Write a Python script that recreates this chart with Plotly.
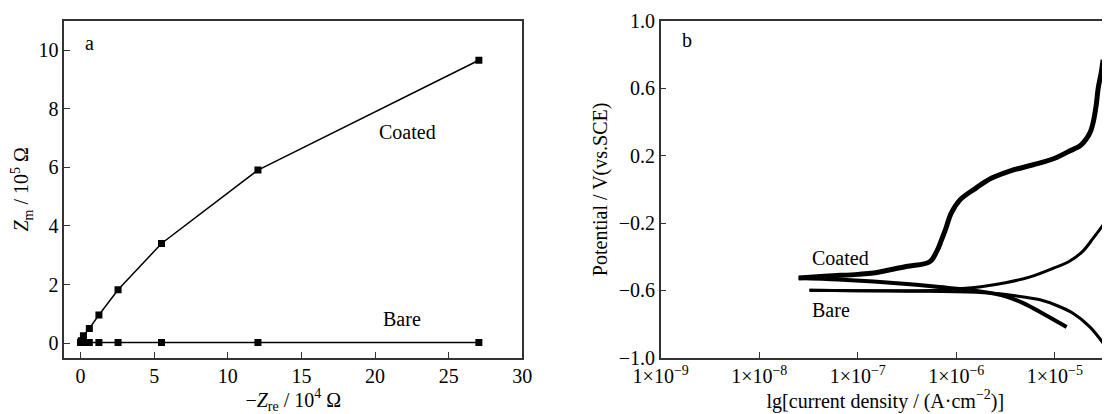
import numpy as np
import plotly.graph_objects as go

# ---------- panel a : Nyquist-type data ----------
coated_zre = [0.0, 0.05, 0.2, 0.6, 1.25, 2.55, 5.5, 12.05, 27.05]
coated_zim = [0.02, 0.08, 0.25, 0.5, 0.96, 1.82, 3.4, 5.91, 9.66]
bare_zre = [0.0, 0.05, 0.2, 0.6, 1.25, 2.55, 5.5, 12.05, 27.05]
bare_zim = [0.02, 0.02, 0.02, 0.02, 0.02, 0.02, 0.02, 0.02, 0.02]

# ---------- panel b : polarization curves (lg i, E) ----------
coated_anodic_lg = [-7.60, -7.3, -7.0, -6.84, -6.51, -6.27, -6.20, -6.15, -6.11, -6.05, -5.96,
                    -5.82, -5.64, -5.45, -5.22, -5.0, -4.86, -4.74, -4.68, -4.64, -4.61, -4.58, -4.56, -4.53, -4.51]
coated_anodic_e = [-0.526, -0.515, -0.505, -0.497, -0.458, -0.430, -0.37, -0.30, -0.239, -0.14, -0.061,
                   0.0, 0.067, 0.11, 0.146, 0.185, 0.225, 0.26, 0.30, 0.34, 0.40, 0.50, 0.60, 0.69, 0.769]
coated_cathodic_lg = [-7.60, -7.2, -6.84, -6.5, -6.17, -5.76, -5.5, -5.32, -5.1, -4.88]
coated_cathodic_e = [-0.526, -0.535, -0.547, -0.562, -0.580, -0.606, -0.635, -0.676, -0.745, -0.818]
bare_anodic_lg = [-7.49, -7.0, -6.5, -6.2, -6.0, -5.75, -5.5, -5.25, -5.0, -4.86, -4.72, -4.61, -4.52, -4.44]
bare_anodic_e = [-0.600, -0.602, -0.603, -0.600, -0.592, -0.578, -0.555, -0.52, -0.465, -0.43, -0.37, -0.29, -0.22, -0.15]
bare_cathodic_lg = [-7.49, -7.0, -6.5, -6.0, -5.66, -5.4, -5.15, -4.98, -4.82, -4.65, -4.51]
bare_cathodic_e = [-0.600, -0.603, -0.605, -0.608, -0.616, -0.632, -0.656, -0.69, -0.735, -0.814, -0.913]

log_tickvals = [-9, -8, -7, -6, -5]
log_ticktext = ["1×10<sup>−9</sup>", "1×10<sup>−8</sup>", "1×10<sup>−7</sup>", "1×10<sup>−6</sup>", "1×10<sup>−5</sup>"]
e_tickvals = [-1.0, -0.6, -0.2, 0.2, 0.6, 1.0]
e_ticktext = ["−1.0", "−0.6", "−0.2", "0.2", "0.6", "1.0"]

FONT = "Liberation Serif"
# the page body adds an 8 px margin, so the figure is shrunk by that amount
OFF = 8
W, H = 1110 - OFF, 414 - OFF

def fx(px):
    return (px - OFF) / W

def fy(py):
    return 1 - (py - OFF) / H

fig = go.Figure()

line_a = dict(color="black", width=1.5)
mk = dict(symbol="square", size=7, color="black")
fig.add_trace(go.Scatter(x=coated_zre, y=coated_zim, mode="lines+markers", line=line_a, marker=mk,
                         xaxis="x", yaxis="y", showlegend=False))
fig.add_trace(go.Scatter(x=bare_zre, y=bare_zim, mode="lines+markers", line=line_a, marker=mk,
                         xaxis="x", yaxis="y", showlegend=False))

def p(lg):
    return np.power(10.0, np.array(lg))

fig.add_trace(go.Scatter(x=p(bare_anodic_lg), y=bare_anodic_e, mode="lines",
                         line=dict(color="black", width=3, shape="spline"), xaxis="x2", yaxis="y2", showlegend=False))
fig.add_trace(go.Scatter(x=p(bare_cathodic_lg), y=bare_cathodic_e, mode="lines",
                         line=dict(color="black", width=3, shape="spline"), xaxis="x2", yaxis="y2", showlegend=False))
fig.add_trace(go.Scatter(x=p(coated_cathodic_lg), y=coated_cathodic_e, mode="lines",
                         line=dict(color="black", width=4, shape="spline"), xaxis="x2", yaxis="y2", showlegend=False))
fig.add_trace(go.Scatter(x=p(coated_anodic_lg), y=coated_anodic_e, mode="lines",
                         line=dict(color="black", width=5, shape="spline"), xaxis="x2", yaxis="y2", showlegend=False))

ax_common = dict(showgrid=False, zeroline=False, showline=True, linecolor="#333", linewidth=1.5,
                 ticks="inside", ticklen=6, tickwidth=1.2, tickcolor="#333", automargin=False,
                 tickfont=dict(family=FONT, size=20, color="black"))
ydom = [fy(357.7), fy(21)]

fig.update_layout(
    width=W, height=H, margin=dict(l=0, r=0, t=0, b=0, autoexpand=False),
    plot_bgcolor="white", paper_bgcolor="white",
    font=dict(family=FONT, size=20, color="black"),
    xaxis=dict(ax_common, domain=[fx(64.3), fx(522.3)], range=[-1.1, 30], mirror=True,
               tickvals=[0, 5, 10, 15, 20, 25, 30], anchor="y",
               title=dict(text="−<i>Z</i><sub>re</sub> / 10<sup>4</sup> Ω", font=dict(family=FONT, size=20), standoff=2)),
    yaxis=dict(ax_common, domain=ydom, range=[-0.5, 11], mirror=True,
               tickvals=[0, 2, 4, 6, 8, 10], anchor="x",
               title=dict(text="<i>Z</i><sub>m</sub> / 10<sup>5</sup> Ω", font=dict(family=FONT, size=20), standoff=6)),
    xaxis2=dict(ax_common, domain=[fx(660.7), 1.0], type="log", range=[-9, -4.44], mirror=True,
                tickvals=[10.0 ** v for v in log_tickvals], ticktext=log_ticktext, anchor="y2",
                title=dict(text="lg[current density / (A·cm<sup>−2</sup>)]", font=dict(family=FONT, size=20), standoff=2)),
    yaxis2=dict(ax_common, domain=ydom, range=[-1.0, 1.0], mirror=False,
                tickvals=e_tickvals, ticktext=e_ticktext, anchor="x2",
                title=dict(text="Potential / V(vs.SCE)", font=dict(family=FONT, size=20), standoff=6)),
)

ann_font = dict(family=FONT, size=20, color="black")
fig.add_annotation(x=0.58, y=10.25, xref="x", yref="y", text="a", showarrow=False, font=ann_font)
fig.add_annotation(x=22.2, y=7.21, xref="x", yref="y", text="Coated", showarrow=False, font=ann_font)
fig.add_annotation(x=21.8, y=0.83, xref="x", yref="y", text="Bare", showarrow=False, font=ann_font)
fig.add_annotation(x=-8.73, y=0.887, xref="x2", yref="y2", text="b", showarrow=False, font=ann_font)
fig.add_annotation(x=-7.18, y=-0.408, xref="x2", yref="y2", text="Coated", showarrow=False, font=ann_font)
fig.add_annotation(x=-7.27, y=-0.715, xref="x2", yref="y2", text="Bare", showarrow=False, font=ann_font)

fig.write_html("out.html")
